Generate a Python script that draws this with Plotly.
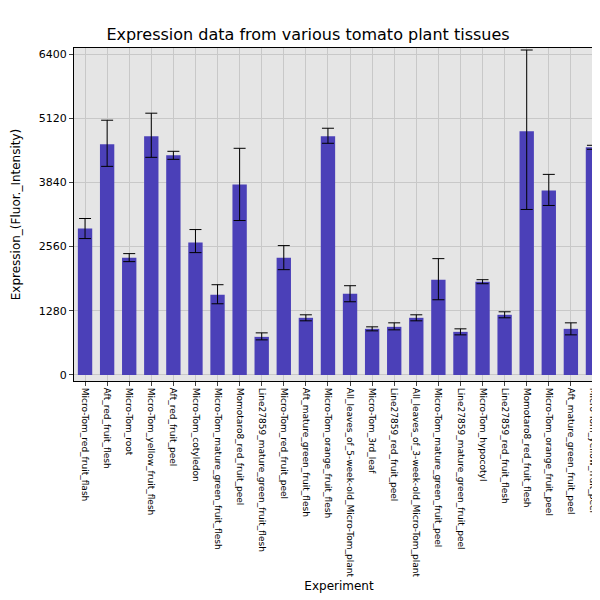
import plotly.graph_objects as go

experiments = [
    "Micro-Tom_red_fruit_flash", "Aft_red_fruit_flesh", "Micro-Tom_root",
    "Micro-Tom_yellow_fruit_flesh", "Aft_red_fruit_peel", "Micro-Tom_cotyledon",
    "Micro-Tom_mature_green_fruit_flesh", "Momotaro8_red_fruit_peel",
    "Line27859_mature_green_fruit_flesh", "Micro-Tom_red_fruit_peel",
    "Aft_mature_green_fruit_flesh", "Micro-Tom_orange_fruit_flesh",
    "All_leaves_of_5-week-old_Micro-Tom_plant", "Micro-Tom_3rd_leaf",
    "Line27859_red_fruit_peel", "All_leaves_of_3-week-old_Micro-Tom_plant",
    "Micro-Tom_mature_green_fruit_peel", "Line27859_mature_green_fruit_peel",
    "Micro-Tom_hypocotyl", "Line27859_red_fruit_flesh", "Momotaro8_red_fruit_flesh",
    "Micro-Tom_orange_fruit_peel", "Aft_mature_green_fruit_peel",
    "Micro-Tom_yellow_fruit_peel",
]
expression = [2920, 4600, 2340, 4760, 4380, 2640, 1600, 3800, 760, 2340, 1140, 4760,
              1620, 920, 960, 1140, 1900, 860, 1860, 1200, 4860, 3680, 920, 4540]
err_plus = [200, 480, 80, 460, 80, 260, 200, 720, 80, 240, 60, 160,
            160, 40, 80, 60, 420, 60, 40, 60, 1620, 320, 120, 40]
err_minus = [200, 440, 80, 420, 80, 200, 180, 720, 60, 240, 60, 140,
             160, 40, 60, 60, 400, 60, 40, 60, 1560, 300, 120, 40]

fig = go.Figure(go.Bar(
    x=experiments, y=expression,
    marker=dict(color="#4b40b8", line=dict(width=0)),
    width=0.65,
    error_y=dict(type="data", array=err_plus, arrayminus=err_minus,
                 color="black", thickness=1, width=6),
))

fig.update_layout(
    width=600, height=600,
    title=dict(text="Expression data from various tomato plant tissues", x=0.5, y=0.965,
               font=dict(size=16, color="black")),
    font=dict(family="DejaVu Sans", color="black"),
    paper_bgcolor="white", plot_bgcolor="#e5e5e5",
    margin=dict(l=66, r=4, t=40, b=227),
    showlegend=False,
    xaxis=dict(title=dict(text="Experiment", font=dict(size=12), standoff=5),
               tickangle=90, tickfont=dict(size=9), showgrid=True,
               gridcolor="#c8c8c8", ticks="outside", ticklen=4,
               showline=True, linecolor="black", mirror=True),
    yaxis=dict(title=dict(text="Expression_(Fluor._Intensity)", font=dict(size=12)),
               range=[-120, 6520], tickvals=[0, 1280, 2560, 3840, 5120, 6400],
               tickfont=dict(size=11), showgrid=True, gridcolor="#c8c8c8",
               zeroline=False, ticks="outside", ticklen=4,
               showline=True, linecolor="black", mirror=True),
)

fig.write_html("out.html")
